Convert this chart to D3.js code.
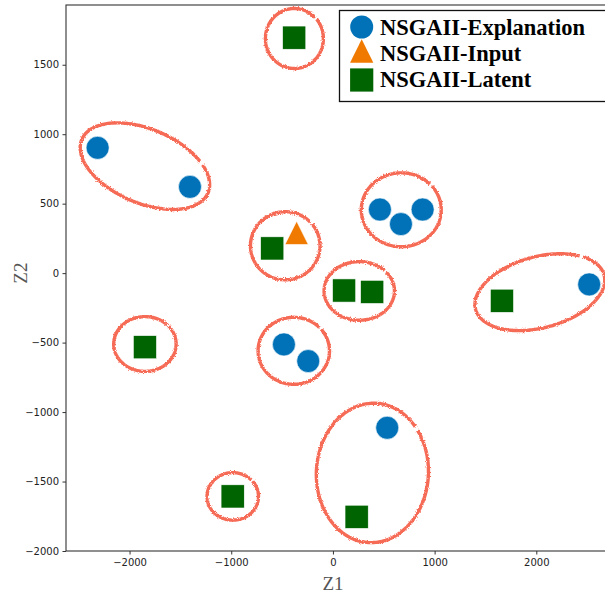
<!DOCTYPE html>
<html>
<head>
<meta charset="utf-8">
<script src="https://cdn.jsdelivr.net/npm/d3@7"></script>
<style>
  body { margin: 0; background: #fff; }
  svg { display: block; }
</style>
</head>
<body>
<div id="chart"></div>
<script>
// series values
const explanationZ1 = [-2314, -1406, 462, 669, 882, 2520, -482, -243, 534];
const explanationZ2 = [902, 621, 458, 353, 458, -81, -513, -633, -1113];
const inputZ1 = [-357];
const inputZ2 = [290];
const latentZ1 = [-381, -597, 110, 386, 1662, -1849, -986, 233];
const latentZ2 = [1695, 178, -125, -135, -199, -533, -1607, -1754];

// cluster ellipses: centre (Z1, Z2), half axes (Z1 units, Z2 units), tilt in degrees
const clusterCx = [-379, -1849, 672, -469, 259, 2035, -1849, -385, 388, -985];
const clusterCy = [1689, 770, 456, 197, -128, -137, -510, -559, -1438, -1607];
const clusterRx = [285, 674, 393, 342, 346, 654, 307, 351, 551, 253];
const clusterRy = [216, 266, 266, 245, 211, 256, 197, 241, 502, 171];
const clusterTilt = [0, 23, 0, 0, 0, -15, 0, 0, 3, 0];

const xTicks = [-2000, -1000, 0, 1000, 2000];
const yTicks = [-2000, -1500, -1000, -500, 0, 500, 1000, 1500];
const legendLabels = ["NSGAII-Explanation", "NSGAII-Input", "NSGAII-Latent"];

const width = 605, height = 595;
const colors = { explanation: "#0172b8", input: "#f07a00", latent: "#006400" };

const svg = d3.select("#chart").append("svg")
    .attr("width", width)
    .attr("height", height);

// fuzzy pen for the ellipses
const defs = svg.append("defs");
const filt = defs.append("filter").attr("id", "rough")
    .attr("x", "-10%").attr("y", "-10%").attr("width", "120%").attr("height", "120%");
filt.append("feTurbulence").attr("type", "fractalNoise")
    .attr("baseFrequency", 1.4).attr("numOctaves", 2).attr("result", "noise");
filt.append("feDisplacementMap").attr("in", "SourceGraphic").attr("in2", "noise")
    .attr("scale", 3).attr("xChannelSelector", "R").attr("yChannelSelector", "G");

// scales
const x = d3.scaleLinear().domain([-2625, 2705]).range([66, 608]);
const y = d3.scaleLinear().domain([-2000, 1930]).range([551, 5]);

const fmt = d3.format("d");
const xAxis = d3.axisBottom(x).tickValues(xTicks).tickFormat(fmt).tickSize(3.5).tickPadding(4);
const yAxis = d3.axisLeft(y).tickValues(yTicks).tickFormat(fmt).tickSize(3.5).tickPadding(3.5);

const plot = svg.append("g");

// ellipses
const kx = x(1) - x(0), ky = y(0) - y(1);
const gap = 0.07, t0 = -42 * Math.PI / 180;
const ellipseLine = d3.line().curve(d3.curveLinear);

clusterCx.forEach((cx, i) => {
    const a = clusterRx[i] * kx, b = clusterRy[i] * ky;
    const th = clusterTilt[i] * Math.PI / 180;
    const px = x(cx), py = y(clusterCy[i]);
    const pts = d3.range(0, 241).map(k => {
        const t = t0 + gap / 2 + (2 * Math.PI - gap) * k / 240;
        const ex = a * Math.cos(t), ey = b * Math.sin(t);
        return [px + ex * Math.cos(th) - ey * Math.sin(th),
                py + ex * Math.sin(th) + ey * Math.cos(th)];
    });
    plot.append("path")
        .attr("d", ellipseLine(pts))
        .attr("fill", "none")
        .attr("stroke", "#f5553f")
        .attr("stroke-width", 3.4)
        .attr("stroke-opacity", 0.88)
        .attr("filter", "url(#rough)");
});

// points
const triPath = s => {
    const h = s / 2;
    return `M0,${-h}L${h},${h}L${-h},${h}Z`;
};

plot.selectAll(".expl").data(explanationZ1).join("circle")
    .attr("class", "expl")
    .attr("cx", d => x(d))
    .attr("cy", (d, i) => y(explanationZ2[i]))
    .attr("r", 11.5)
    .attr("fill", colors.explanation)
    .attr("stroke", "#fff").attr("stroke-width", 0.6);

plot.selectAll(".lat").data(latentZ1).join("rect")
    .attr("class", "lat")
    .attr("x", d => x(d) - 11.6)
    .attr("y", (d, i) => y(latentZ2[i]) - 11.6)
    .attr("width", 23.2).attr("height", 23.2)
    .attr("fill", colors.latent)
    .attr("stroke", "#fff").attr("stroke-width", 0.6);

plot.selectAll(".inp").data(inputZ1).join("path")
    .attr("class", "inp")
    .attr("transform", (d, i) => `translate(${x(d)},${y(inputZ2[i])})`)
    .attr("d", triPath(23.3))
    .attr("fill", colors.input)
    .attr("stroke", "#fff").attr("stroke-width", 0.6);

// axes
const gx = svg.append("g").attr("transform", `translate(0,${y(-2000)})`).call(xAxis);
const gy = svg.append("g").attr("transform", `translate(${x(-2625)},0)`).call(yAxis);
[gx, gy].forEach(g => {
    g.select(".domain").remove();
    g.selectAll("line").attr("stroke", "#333");
    g.selectAll("text")
        .attr("font-family", "DejaVu Sans")
        .attr("font-size", 10)
        .attr("fill", "#222");
});

// frame
svg.append("rect")
    .attr("x", x(-2625)).attr("y", y(1930))
    .attr("width", x(2705) - x(-2625)).attr("height", y(-2000) - y(1930))
    .attr("fill", "none").attr("stroke", "#333").attr("stroke-width", 1.1);

// axis titles
svg.append("text")
    .attr("x", x(0)).attr("y", 590)
    .attr("text-anchor", "middle")
    .attr("font-family", "Liberation Serif")
    .attr("font-size", 19)
    .attr("fill", "#555")
    .text("Z1");
svg.append("text")
    .attr("transform", `translate(27,${y(0)}) rotate(-90)`)
    .attr("text-anchor", "middle")
    .attr("font-family", "Liberation Serif")
    .attr("font-size", 19)
    .attr("fill", "#555")
    .text("Z2");

// legend
const lg = svg.append("g");
lg.append("rect")
    .attr("x", 339.5).attr("y", 10.5)
    .attr("width", 280).attr("height", 91)
    .attr("fill", "#fff").attr("stroke", "#111").attr("stroke-width", 1.3);

const rowY = [27, 51, 80];
lg.append("circle").attr("cx", 361.7).attr("cy", rowY[0]).attr("r", 11.5)
    .attr("fill", colors.explanation);
lg.append("path").attr("transform", `translate(361.7,${rowY[1]})`)
    .attr("d", triPath(23.3)).attr("fill", colors.input);
lg.append("rect").attr("x", 361.7 - 11.6).attr("y", rowY[2] - 11.6)
    .attr("width", 23.2).attr("height", 23.2).attr("fill", colors.latent);

lg.selectAll(".lt").data(legendLabels).join("text")
    .attr("class", "lt")
    .attr("x", 380)
    .attr("y", (d, i) => [35, 61, 87][i])
    .attr("font-family", "Liberation Serif")
    .attr("font-weight", "bold")
    .attr("font-size", 22.5)
    .attr("fill", "#000")
    .text(d => d);
</script>
</body>
</html>
